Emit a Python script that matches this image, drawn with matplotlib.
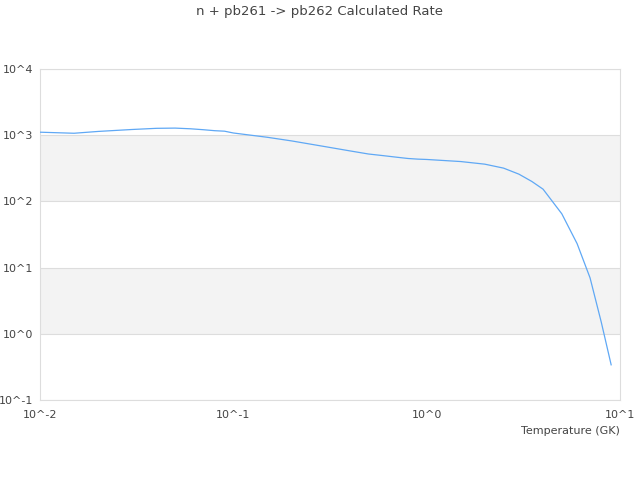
import matplotlib
matplotlib.use("Agg")
import matplotlib.pyplot as plt
import numpy as np

# temperatures (GK) and rates
temps = [0.01, 0.015, 0.02, 0.03, 0.04, 0.05, 0.06, 0.07, 0.08, 0.09,
         0.1, 0.15, 0.2, 0.3, 0.4, 0.5, 0.6, 0.7, 0.8, 0.9,
         1.0, 1.5, 2.0, 2.5, 3.0, 3.5, 4.0, 5.0, 6.0, 7.0, 8.0, 9.0]
rates = [1110, 1070, 1140, 1220, 1270, 1280, 1250, 1210, 1170, 1150,
         1080, 930, 820, 670, 580, 520, 490, 465, 445, 435,
         430, 400, 365, 318, 258, 200, 153, 65, 23, 7.0, 1.5, 0.34]

x_ticks = [0.01, 0.1, 1, 10]
x_labels = ['10^-2', '10^-1', '10^0', '10^1']
y_ticks = [0.1, 1, 10, 100, 1000, 10000]
y_labels = ['10^-1', '10^0', '10^1', '10^2', '10^3', '10^4']

plt.rcParams['font.family'] = ['DejaVu Sans']
txt = '#444444'
grid = '#dddddd'

fig = plt.figure(figsize=(6.4, 4.8), dpi=100)
ax = fig.add_axes([40/640, 80/480, 580/640, 331/480])

ax.set_xscale('log')
ax.set_yscale('log')
ax.set_xlim(0.01, 10)
ax.set_ylim(0.1, 10000)

# alternating bands
for lo, hi in [(1, 10), (100, 1000)]:
    ax.axhspan(lo, hi, color='#f3f3f3', zorder=0, lw=0)
for yv in y_ticks:
    ax.axhline(yv, color=grid, lw=0.8, zorder=1)

ax.plot(temps, rates, color='#5fa8f5', lw=0.9, zorder=3)

ax.set_xticks(x_ticks)
ax.set_xticklabels(x_labels)
ax.set_yticks(y_ticks)
ax.set_yticklabels(y_labels)
ax.minorticks_off()
ax.tick_params(axis='both', length=0, colors=txt, labelsize=8)
ax.tick_params(axis='x', pad=7)
ax.tick_params(axis='y', pad=5)

for s in ax.spines.values():
    s.set_color(grid)
    s.set_linewidth(0.8)

fig.text(319/640, 1 - 12/480, 'n + pb261 -> pb262 Calculated Rate',
         ha='center', va='center', color=txt, fontsize=9.5)
fig.text(620/640, 1 - 431/480, 'Temperature (GK)', ha='right', va='center',
         color=txt, fontsize=8)

fig.savefig('out.png', dpi=100)
